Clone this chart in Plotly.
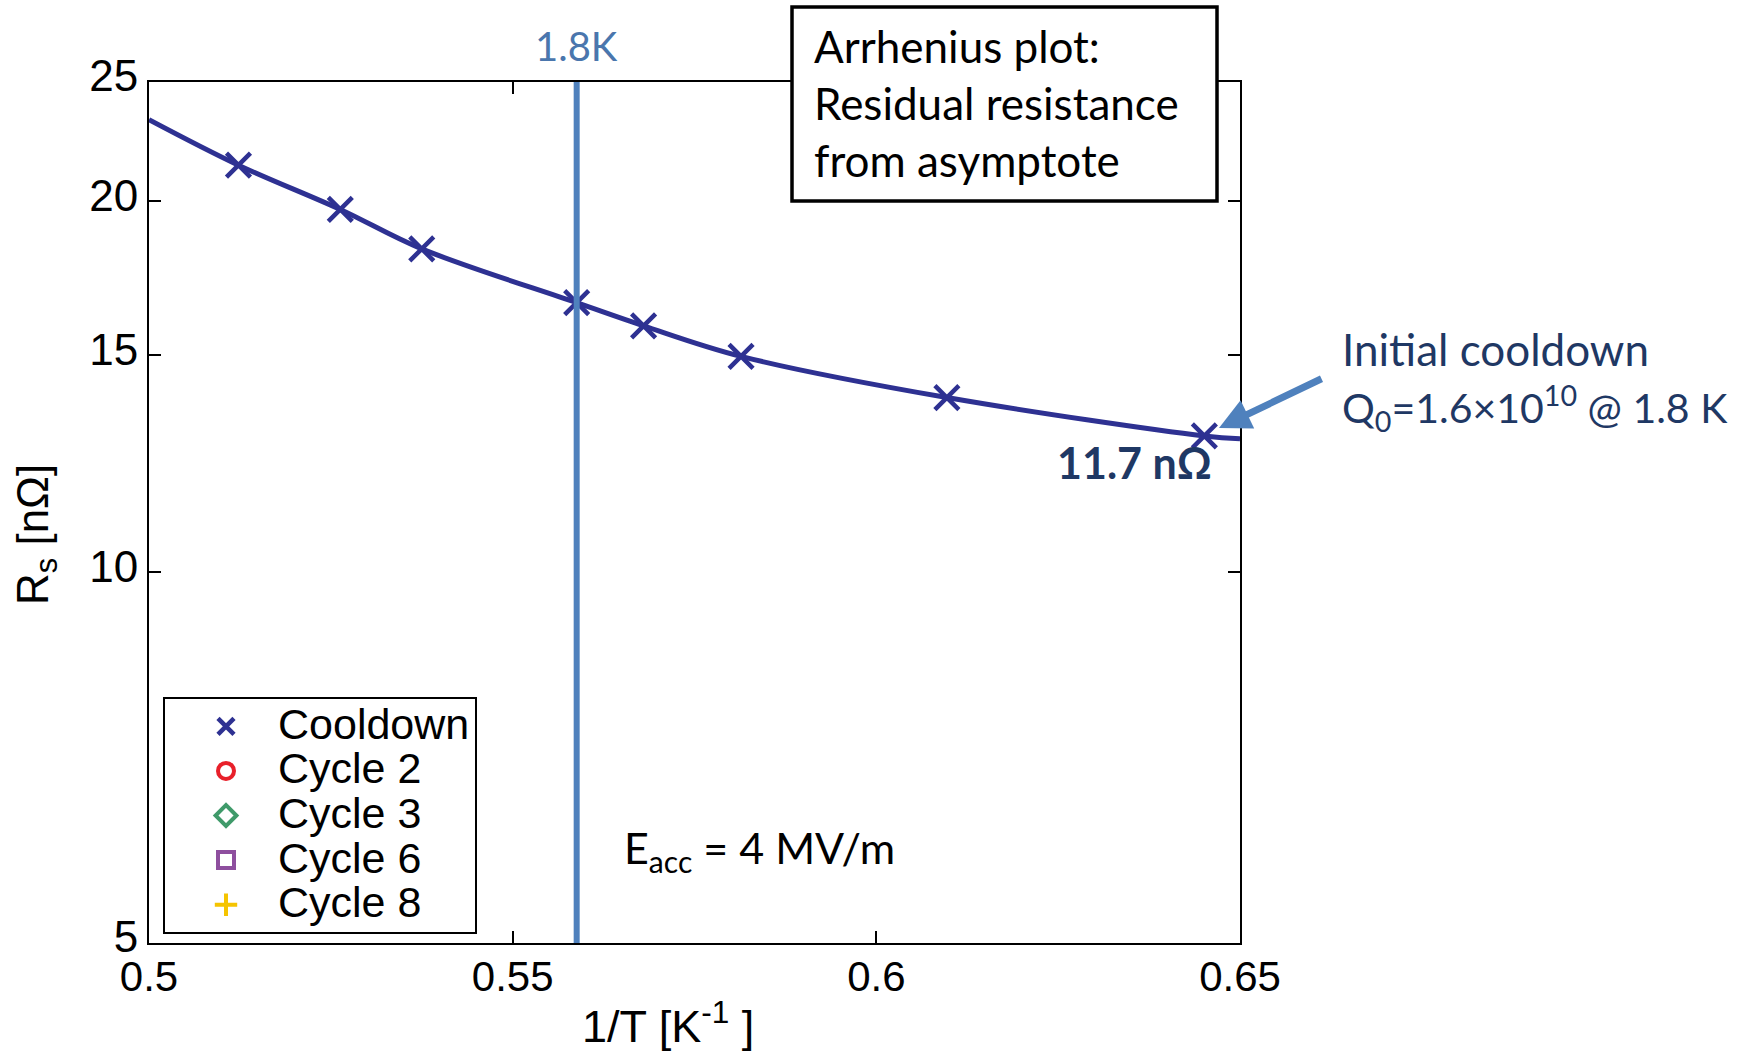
import plotly.graph_objects as go

# ---- data ----
cool_x = [0.5123, 0.5263, 0.5375, 0.5588, 0.568, 0.5814, 0.6097, 0.6451]
cool_y = [21.4, 19.7, 18.3, 16.55, 15.85, 14.97, 13.86, 12.9]

fit_x = [0.500, 0.5123, 0.5263, 0.5375, 0.5588, 0.568, 0.5814, 0.6097, 0.6451, 0.650]
fit_y = [23.3, 21.4, 19.7, 18.3, 16.55, 15.85, 14.97, 13.86, 12.9, 12.83]

cycle_names = ["Cycle 2", "Cycle 3", "Cycle 6", "Cycle 8"]
cycle_symbols = ["circle-open", "diamond-open", "square-open", "cross-thin-open"]
cycle_colors = ["#e8202a", "#3f9a6a", "#8e4f9e", "#f5c400"]

line_18K_x = 0.5588
x_ticks = [0.5, 0.55, 0.6, 0.65]
x_ticktext = ["0.5", "0.55", "0.6", "0.65"]
y_ticks = [5, 10, 15, 20, 25]

NAVY = "#2e3192"
BLUE = "#4f81bd"
DARK = "#1f3864"
FONT = "Liberation Sans, Arial, sans-serif"
CAL = "Lato, Open Sans, sans-serif"


def big(t):
    return '<span style="font-size:43px">' + t + '</span>'


fig = go.Figure()

fig.add_trace(go.Scatter(x=fit_x, y=fit_y, mode="lines", line=dict(color=NAVY, width=5, shape="spline"),
                         showlegend=False, hoverinfo="skip"))
fig.add_trace(go.Scatter(x=cool_x, y=cool_y, mode="markers", name=big("Cooldown"),
                         marker=dict(symbol="x-thin-open", size=24, color=NAVY, line=dict(width=4.5, color=NAVY))))
for n, s, c in zip(cycle_names, cycle_symbols, cycle_colors):
    fig.add_trace(go.Scatter(x=[None], y=[None], mode="markers", name=big(n),
                             marker=dict(symbol=s, size=16, color=c, line=dict(width=4, color=c))))

L, R, T, B = 149, 514, 82, 108
PW, PH = 1754 - L - R, 1051 - T - B


def px(xp):
    return (xp - L) / PW


def py(yp):
    return (1051 - B - yp) / PH


fig.add_shape(type="line", xref="x", yref="paper", x0=line_18K_x, x1=line_18K_x, y0=0, y1=1,
              line=dict(color=BLUE, width=6))
# text box frame
fig.add_shape(type="rect", xref="paper", yref="paper", x0=px(792), x1=px(1217), y0=py(201), y1=py(7),
              line=dict(color="black", width=3.5), fillcolor="white", layer="above")

fig.update_layout(
    width=1754, height=1051,
    margin=dict(l=L, r=R, t=T, b=B),
    paper_bgcolor="white", plot_bgcolor="white",
    font=dict(family=FONT, size=40, color="black"),
    legend=dict(x=px(163), y=py(697), xanchor="left", yanchor="top",
                bordercolor="black", borderwidth=2, bgcolor="white",
                font=dict(family=FONT, size=32, color="black"),
                itemwidth=94, indentation=9, tracegroupgap=0),
    xaxis=dict(range=[0.5, 0.65], tickvals=x_ticks, ticktext=x_ticktext,
               showline=True, linecolor="black", linewidth=2, mirror="ticks",
               ticks="inside", ticklen=12, tickwidth=1.5, tickcolor="black",
               showgrid=False, zeroline=False, ticklabelstandoff=-4,
               tickfont=dict(family=FONT, size=42, color="black")),
    yaxis=dict(type="log", range=[0.69897, 1.39794], tickvals=y_ticks,
               ticktext=[str(v) for v in y_ticks],
               showline=True, linecolor="black", linewidth=2, mirror="ticks",
               ticks="inside", ticklen=12, tickwidth=1.5, tickcolor="black",
               showgrid=False, zeroline=False, ticklabelshift=-6,
               tickfont=dict(family=FONT, size=44, color="black")),
)

ann = []
# axis titles
ann.append(dict(text="1/T [K<sup>-1</sup> ]", xref="paper", yref="paper", x=px(668), y=py(1023),
                xanchor="center", yanchor="middle", showarrow=False,
                font=dict(family=FONT, size=45, color="black")))
ann.append(dict(text="R<sub>s</sub> [nΩ]", xref="paper", yref="paper", x=px(36), y=py(535),
                xanchor="center", yanchor="middle", textangle=-90, showarrow=False,
                font=dict(family=FONT, size=44, color="black")))
# 1.8K label
ann.append(dict(text="1.8K", xref="x", yref="paper", x=line_18K_x, y=1.0,
                xanchor="center", yanchor="bottom", yshift=10, showarrow=False,
                font=dict(family=CAL, size=40, color="#4a76ad")))
# text box text
ann.append(dict(text="Arrhenius plot:<br>Residual resistance<br>from asymptote",
                xref="paper", yref="paper", x=px(812), y=py(103), xanchor="left", yanchor="middle",
                align="left", showarrow=False,
                font=dict(family=CAL, size=44, color="black")))
# initial cooldown
ann.append(dict(text='Initial cooldown<br><span style="font-size:41px">Q<sub>0</sub>=1.6×10<sup>10</sup> @ 1.8 K</span>',
                xref="paper", yref="paper", x=px(1340), y=py(380),
                xanchor="left", yanchor="middle", align="left", showarrow=False,
                font=dict(family=CAL, size=44, color=DARK)))
# arrow
ann.append(dict(text="", xref="paper", yref="paper", x=px(1219), y=py(428),
                ax=104, ay=-50, showarrow=True, arrowhead=2, arrowsize=0.9, arrowwidth=7,
                arrowcolor=BLUE))
# residual value
ann.append(dict(text="<b>11.7 nΩ</b>", xref="paper", yref="paper", x=px(1134),
                y=py(462), xanchor="center", yanchor="middle", showarrow=False,
                font=dict(family=CAL, size=43, color=DARK)))
# Eacc
ann.append(dict(text="E<sub>acc</sub> = 4 MV/m", xref="paper", yref="paper", x=px(622),
                y=py(850), xanchor="left", yanchor="middle", showarrow=False,
                font=dict(family=CAL, size=43, color="black")))
fig.update_layout(annotations=ann)

fig.write_html("out.html")
